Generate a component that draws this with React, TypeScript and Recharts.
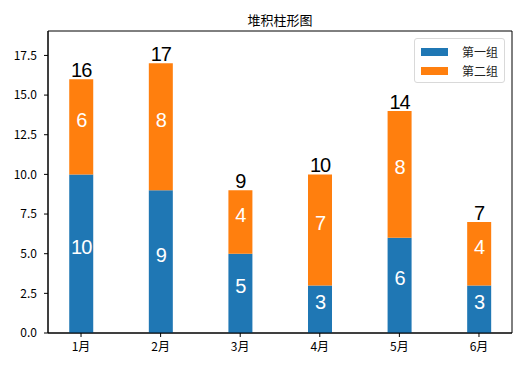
import { Bar, BarChart, LabelList, ReferenceArea, XAxis, YAxis } from "recharts";

const months = ["1月", "2月", "3月", "4月", "5月", "6月"];
const group1 = [10, 9, 5, 3, 6, 3];
const group2 = [6, 8, 4, 7, 8, 4];
const yTicks = [0, 2.5, 5, 7.5, 10, 12.5, 15, 17.5];

const BLUE = "#1f77b4";
const ORANGE = "#ff7f0e";
const CJK = '"Noto Sans CJK SC", "DejaVu Sans", sans-serif';
const NUM_FONT = '"Liberation Sans", Arial, sans-serif';
const X_DOMAIN = [-0.415, 5.415];
const Y_MAX = 19.04;

const data = months.map((m, i) => ({
  x: i,
  month: m,
  g1: group1[i],
  g2: group2[i],
  total: group1[i] + group2[i],
}));

// white number at the segment middle (matplotlib baseline alignment)
function InnerLabel(props: any) {
  const { x, y, width, height, value } = props;
  return (
    <text
      x={Number(x) + Number(width) / 2}
      y={Number(y) + Number(height) / 2}
      textAnchor="middle"
      fill="#ffffff"
      fontSize={20}
      letterSpacing={-1}
      fontFamily={NUM_FONT}
    >
      {value}
    </text>
  );
}

function TotalLabel(props: any) {
  const { x, y, width, index } = props;
  return (
    <text
      x={Number(x) + Number(width) / 2}
      y={Number(y) - 2}
      textAnchor="middle"
      fill="#000000"
      fontSize={20}
      letterSpacing={-1}
      fontFamily={NUM_FONT}
    >
      {data[index].total}
    </text>
  );
}

function LegendBox() {
  const items = [
    { name: "第一组", color: BLUE },
    { name: "第二组", color: ORANGE },
  ];
  return (
    <div
      style={{
        position: "absolute",
        top: 30,
        left: 406,
        width: 91,
        boxSizing: "border-box",
        border: "1px solid #d9d9d9",
        borderRadius: 3,
        background: "rgba(255,255,255,0.8)",
        padding: "3px 6px 2px 6px",
        fontFamily: CJK,
        fontSize: 12,
        color: "#222",
      }}
    >
      {items.map((it) => (
        <div
          key={it.name}
          style={{ display: "flex", alignItems: "center", height: 19 }}
        >
          <span
            style={{
              width: 27,
              height: 8,
              background: it.color,
              display: "inline-block",
              marginRight: 14,
            }}
          />
          <span>{it.name}</span>
        </div>
      ))}
    </div>
  );
}

export default function App() {
  return (
    <div style={{ position: "relative", width: 514, height: 357 }}>
      <div
        style={{
          position: "absolute",
          top: 2,
          left: 232,
          width: 80,
          textAlign: "center",
          fontFamily: CJK,
          fontSize: 13,
          color: "#000",
        }}
      >
        堆积柱形图
      </div>
      <BarChart
        width={514}
        height={357}
        data={data}
        margin={{ top: 23, right: 10, left: 0, bottom: 0 }}
      >
        <XAxis
          dataKey="x"
          type="number"
          domain={X_DOMAIN}
          ticks={[0, 1, 2, 3, 4, 5]}
          tickFormatter={(v: number) => months[v]}
          height={32}
          tickSize={4}
          tickMargin={5}
          stroke="#000"
          tick={{ fill: "#000", fontSize: 12, fontFamily: CJK }}
          allowDataOverflow
        />
        <YAxis
          domain={[0, Y_MAX]}
          ticks={yTicks}
          tickFormatter={(v: number) => v.toFixed(1)}
          width={40}
          tickSize={4}
          tickMargin={7}
          stroke="#000"
          tick={{ fill: "#000", fontSize: 12, fontFamily: CJK }}
          allowDataOverflow
        />
        <Bar
          dataKey="g1"
          name="第一组"
          stackId="a"
          fill={BLUE}
          barSize={24}
          isAnimationActive={false}
        >
          <LabelList dataKey="g1" content={InnerLabel} />
        </Bar>
        <Bar
          dataKey="g2"
          name="第二组"
          stackId="a"
          fill={ORANGE}
          barSize={24}
          isAnimationActive={false}
        >
          <LabelList dataKey="g2" content={InnerLabel} />
          <LabelList dataKey="total" content={TotalLabel} />
        </Bar>
        <ReferenceArea
          x1={X_DOMAIN[0]}
          x2={X_DOMAIN[1]}
          y1={0}
          y2={Y_MAX}
          fill="none"
          stroke="#000"
          strokeWidth={1}
          ifOverflow="visible"
        />
      </BarChart>
      <LegendBox />
    </div>
  );
}
